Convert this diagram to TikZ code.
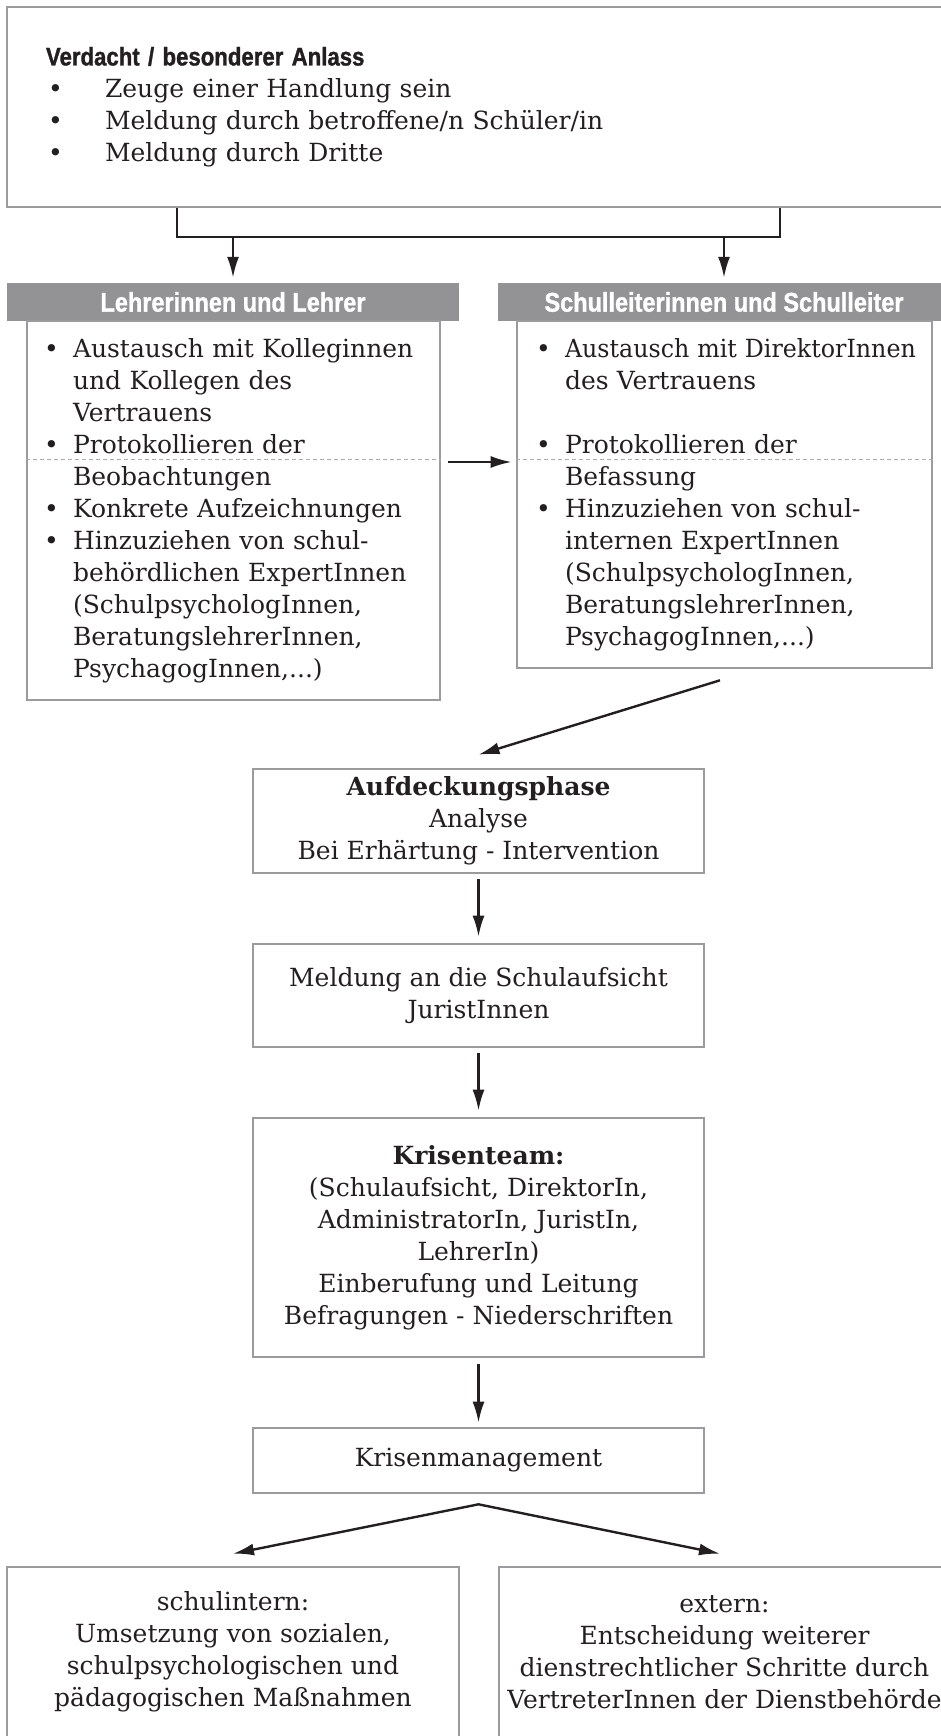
\documentclass[tikz,border=0pt]{standalone}
\usepackage{fontspec}
\setmainfont{DejaVu Serif}
\newfontfamily\kopffont[FakeStretch=0.87, BoldFeatures={FakeBold=1.2}]{Liberation Sans}
\usepackage{xcolor}
\usepackage{graphicx}
\usepackage{tikz}
\usetikzlibrary{arrows.meta,calc,positioning}

\definecolor{rahmen}{HTML}{9B9B9D}
\definecolor{kopfgrau}{HTML}{939395}
\definecolor{schrift}{HTML}{231F20}
\definecolor{strich}{HTML}{ABABAB}

\newcommand{\pkt}{\makebox[29pt][l]{\textbullet}}
\newcommand{\ein}{\hspace*{29pt}}

\begin{document}
\begin{tikzpicture}[x=1pt,y=-1pt,
    every node/.style={text=schrift, font=\fontsize{25}{32}\selectfont},
    kasten/.style={draw=rahmen, line width=2.6pt, rectangle, inner sep=0pt},
    kopf/.style={fill=kopfgrau, text=white, inner sep=0pt,
      font=\kopffont\bfseries\fontsize{27}{30}\selectfont},
    linie/.style={draw=schrift, line width=2.4pt},
    pfeil/.style={linie, -{Latex[length=21pt,width=12pt]}},
    trenn/.style={draw=strich, line width=1pt, dash pattern=on 4pt off 3pt}]
  \useasboundingbox (0,0) rectangle (941,1736);
  \clip (0,0) rectangle (941,1736);

  % Anlass
  \node[kasten, minimum width=943, minimum height=200, inner xsep=39,
    text width=865, align=left] (anlass) at (478.5,107) {%
    {\kopffont\bfseries\fontsize{25.5}{32}\selectfont Verdacht / besonderer Anlass}\\
    \makebox[59pt][l]{\hspace{2pt}\textbullet}Zeuge einer Handlung sein\\
    \makebox[59pt][l]{\hspace{2pt}\textbullet}Meldung durch betroffene/n Schüler/in\\
    \makebox[59pt][l]{\hspace{2pt}\textbullet}Meldung durch Dritte};

  % zwei Spalten
  \node[kopf, minimum width=452, minimum height=38] (lehrerKopf) at (233,302)
    {Lehrerinnen und Lehrer};
  \node[kopf, minimum width=452, minimum height=38] (leiterKopf) at (724,302)
    {Schulleiterinnen und Schulleiter};
  \node[kasten, minimum width=413, minimum height=379, inner xsep=17,
    text width=379, align=left] (lehrer) at (233.5,510.5) {%
    \pkt Austausch mit Kolleginnen\\
    \ein und Kollegen des\\
    \ein Vertrauens\\
    \pkt Protokollieren der\\
    \ein Beobachtungen\\
    \pkt Konkrete Aufzeichnungen\\
    \pkt Hinzuziehen von schul-\\
    \ein behördlichen ExpertInnen\\
    \ein (SchulpsychologInnen,\\
    \ein BeratungslehrerInnen,\\
    \ein PsychagogInnen,...)};
  \node[kasten, minimum width=415, minimum height=347, inner xsep=19,
    text width=377, align=left] (leiter) at (724.5,494.5) {%
    \pkt\scalebox{0.95}[1]{Austausch mit DirektorInnen}\\
    \ein des Vertrauens\\[32pt]
    \pkt Protokollieren der\\
    \ein Befassung\\
    \pkt Hinzuziehen von schul-\\
    \ein internen ExpertInnen\\
    \ein (SchulpsychologInnen,\\
    \ein BeratungslehrerInnen,\\
    \ein PsychagogInnen,...)};

  % Ablauf
  \node[kasten, minimum width=451, minimum height=104, align=center] (aufd)
    at (478.5,821) {\textbf{Aufdeckungsphase}\\Analyse\\Bei Erhärtung - Intervention};
  \node[kasten, minimum width=451, minimum height=103, align=center] (meld)
    at (478.5,995.5) {Meldung an die Schulaufsicht\\JuristInnen};
  \node[kasten, minimum width=451, minimum height=239, align=center] (krise)
    at (478.5,1237.5) {\textbf{Krisenteam:}\\(Schulaufsicht, DirektorIn,\\
    AdministratorIn, JuristIn,\\LehrerIn)\\Einberufung und Leitung\\
    Befragungen - Niederschriften};
  \node[kasten, minimum width=451, minimum height=65] (mgmt)
    at (478.5,1460.5) {Krisenmanagement};
  \node[kasten, minimum width=452, minimum height=170, align=center] (intern)
    at (233,1652) {schulintern:\\Umsetzung von sozialen,\\
    schulpsychologischen und\\pädagogischen Maßnahmen};
  \node[kasten, minimum width=451, minimum height=170, align=center] (extern)
    at (724.5,1652) {extern:\\Entscheidung weiterer\\
    dienstrechtlicher Schritte durch\\VertreterInnen der Dienstbehörde};

  % Verbindungen
  \coordinate (gabel) at (478.5,237);
  \coordinate (quer) at (480,462);
  \draw[linie] ($(anlass.south)+(-301.5,0)$) |- (gabel) -| ($(anlass.south)+(301.5,0)$);
  \draw[pfeil] (lehrerKopf.north |- gabel) -- ($(lehrerKopf.north)+(0,-5)$);
  \draw[pfeil] (leiterKopf.north |- gabel) -- ($(leiterKopf.north)+(0,-5)$);
  \draw[trenn] (lehrer.west |- 0,459) -- (lehrer.east |- 0,459);
  \draw[trenn] (leiter.west |- 0,459) -- (leiter.east |- 0,459);
  \draw[pfeil] ($(lehrer.east |- quer)+(7,0)$) -- ($(leiter.west |- quer)+(-4,0)$);
  \draw[pfeil] ($(leiter.south)+(-4.5,11)$) -- ($(aufd.north)+(0,-13)$);
  \draw[pfeil] ($(aufd.south)+(0,5)$) -- ($(meld.north)+(0,-6)$);
  \draw[pfeil] ($(meld.south)+(0,5)$) -- ($(krise.north)+(0,-6)$);
  \draw[pfeil] ($(krise.south)+(0,6)$) -- ($(mgmt.north)+(0,-4)$);
  \coordinate (spitze) at ($(mgmt.south)+(0,10)$);
  \draw[linie, line join=miter, {Latex[length=21pt,width=12pt]}-{Latex[length=21pt,width=12pt]}]
    ($(intern.north)+(0,-12)$) -- (spitze) -- ($(extern.north)+(-4.5,-12)$);
\end{tikzpicture}
\end{document}
